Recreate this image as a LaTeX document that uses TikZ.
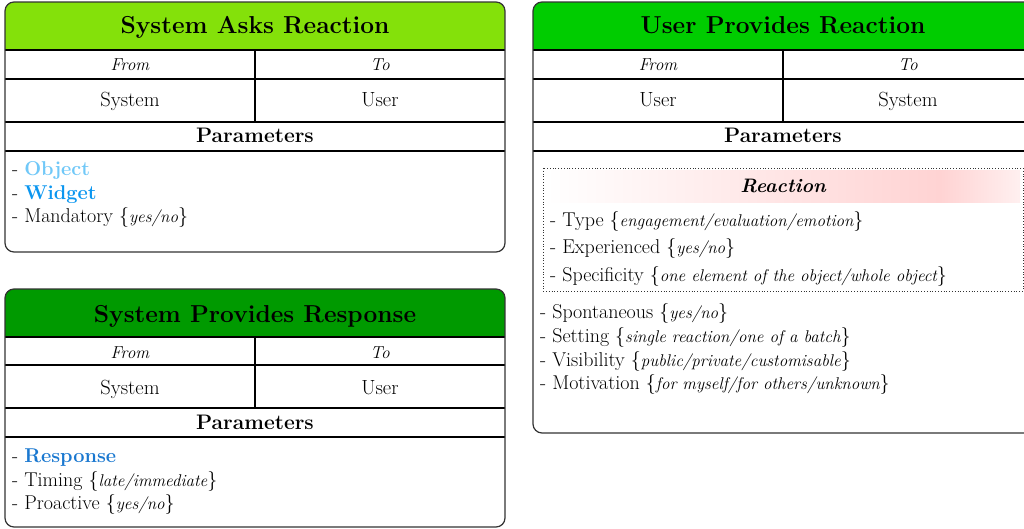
\documentclass[tikz,border=0pt]{standalone}
\definecolor{hdrA}{HTML}{84E10A}
\definecolor{hdrB}{HTML}{00CC00}
\definecolor{hdrC}{HTML}{009A00}
\definecolor{objblue}{HTML}{70C8F8}
\definecolor{widblue}{HTML}{0A96F0}
\definecolor{resblue}{HTML}{1A78D0}
\definecolor{pinkband}{HTML}{FFD3D3}
\newcommand\optv[1]{{\fontsize{17}{20}\selectfont\itshape #1}}
\tikzset{
 cardline/.style={line width=1.1pt, draw=black},
 cardouter/.style={line width=1.2pt, draw=black!80, rounded corners=9pt},
 cardtitle/.style={anchor=base, inner sep=0pt, font=\fontsize{24.5}{28}\selectfont\bfseries},
 hdrtxt/.style={anchor=base, inner sep=0pt, font=\fontsize{17.3}{20}\selectfont\itshape},
 celltxt/.style={anchor=base, inner sep=0pt, font=\fontsize{20.5}{24}\selectfont},
 paramtxt/.style={anchor=base, inner sep=0pt, font=\fontsize{21}{25}\selectfont\bfseries},
 item/.style={anchor=base west, inner sep=0pt, font=\fontsize{20}{24}\selectfont},
 dotbox/.style={draw=black!80, line width=0.8pt, dotted},
}
\begin{document}
\begin{tikzpicture}[x=1pt,y=-1pt]
\clip (0,0) rectangle (1024,529);
\fill[white] (0,0) rectangle (1024,529);

% ---------- Box 1: System Asks Reaction ----------
\begin{scope}
 \clip[rounded corners=9pt] (5,2) rectangle (505,252);
 \fill[hdrA] (5,2) rectangle (505,50);
\end{scope}
\draw[cardline] (5,50) -- (505,50);
\draw[cardline] (5,79) -- (505,79);
\draw[cardline] (5,122) -- (505,122);
\draw[cardline] (5,151) -- (505,151);
\draw[cardline] (255,50) -- (255,122);
\draw[cardouter] (5,2) rectangle (505,252);
\node[cardtitle] (t1) at (255,34) {System Asks Reaction};
\node[hdrtxt] (f1) at (130,71) {From};
\node[hdrtxt] (to1) at (380,71) {To};
\node[celltxt] (s1) at (130,107) {System};
\node[celltxt] (u1) at (380,107) {User};
\node[paramtxt] (p1) at (255,143) {Parameters};
\node[item] (a1) at (12,176) {- \textcolor{objblue}{\textbf{Object}}};
\node[item] (a2) at (12,199.5) {- \textcolor{widblue}{\textbf{Widget}}};
\node[item] (a3) at (12,222.5) {- Mandatory \{\optv{yes/no}\}};

% ---------- Box 2: User Provides Reaction ----------
\begin{scope}
 \clip[rounded corners=9pt] (533,2) rectangle (1033,433);
 \fill[hdrB] (533,2) rectangle (1033,50);
\end{scope}
\draw[cardline] (533,50) -- (1033,50);
\draw[cardline] (533,79) -- (1033,79);
\draw[cardline] (533,122) -- (1033,122);
\draw[cardline] (533,151) -- (1033,151);
\draw[cardline] (783,50) -- (783,122);
\draw[cardouter] (533,2) rectangle (1033,433);
\node[cardtitle] (t2) at (783,34) {User Provides Reaction};
\node[hdrtxt] (f2) at (658,71) {From};
\node[hdrtxt] (to2) at (908,71) {To};
\node[celltxt] (s2) at (658,107) {User};
\node[celltxt] (u2) at (908,107) {System};
\node[paramtxt] (p2) at (783,143) {Parameters};
\shade[left color=white, right color=pinkband] (546,171) rectangle (940,203);
\shade[left color=pinkband, right color=pinkband!35] (940,171) rectangle (1020,203);
\draw[dotbox] (543,168) rectangle (1023,291);
\node[anchor=base, inner sep=0pt, font=\fontsize{19.5}{23}\selectfont\bfseries\itshape] (r2) at (783,193) {Reaction};
\node[item] (b1) at (550,226) {- Type \{\optv{engagement/evaluation/emotion}\}};
\node[item] (b2) at (550,253) {- Experienced \{\optv{yes/no}\}};
\node[item] (b3) at (550,281) {- Specificity \{\optv{one element of the object/whole object}\}};
\node[item] (b4) at (540,318) {- Spontaneous \{\optv{yes/no}\}};
\node[item] (b5) at (540,342) {- Setting \{\optv{single reaction/one of a batch}\}};
\node[item] (b6) at (540,366) {- Visibility \{\optv{public/private/customisable}\}};
\node[item] (b7) at (540,389) {- Motivation \{\optv{for myself/for others/unknown}\}};

% ---------- Box 3: System Provides Response ----------
\begin{scope}
 \clip[rounded corners=9pt] (5,289) rectangle (505,527);
 \fill[hdrC] (5,289) rectangle (505,337);
\end{scope}
\draw[cardline] (5,337) -- (505,337);
\draw[cardline] (5,365) -- (505,365);
\draw[cardline] (5,408) -- (505,408);
\draw[cardline] (5,437) -- (505,437);
\draw[cardline] (255,337) -- (255,408);
\draw[cardouter] (5,289) rectangle (505,527);
\node[cardtitle] (t3) at (255,322) {System Provides Response};
\node[hdrtxt] (f3) at (130,358) {From};
\node[hdrtxt] (to3) at (380,358) {To};
\node[celltxt] (s3) at (130,394) {System};
\node[celltxt] (u3) at (380,394) {User};
\node[paramtxt] (p3) at (255,429) {Parameters};
\node[item] (c1) at (12,462) {- \textcolor{resblue}{\textbf{Response}}};
\node[item] (c2) at (12,486) {- Timing \{\optv{late/immediate}\}};
\node[item] (c3) at (12,509) {- Proactive \{\optv{yes/no}\}};
\end{tikzpicture}
\end{document}
